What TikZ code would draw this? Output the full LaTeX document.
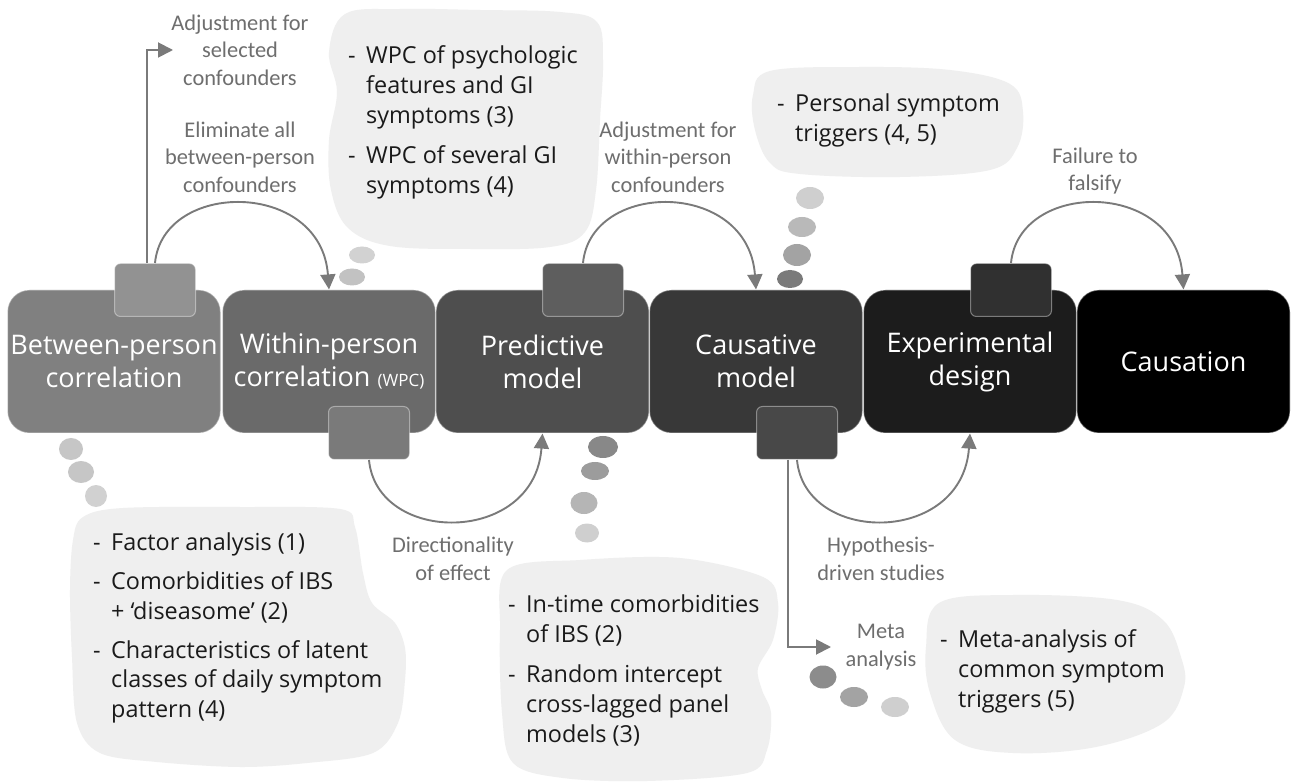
\documentclass[tikz,border=0pt]{standalone}
\usepackage{fontspec}
\setmainfont{Open Sans}
\newfontfamily\lblfont{Carlito}
\usetikzlibrary{arrows.meta}

% stage fills (light to dark) and their tabs
\definecolor{sA}{HTML}{808080}
\definecolor{sB}{HTML}{6A6A6A}
\definecolor{sC}{HTML}{4E4E4E}
\definecolor{sD}{HTML}{383838}
\definecolor{sE}{HTML}{1C1C1C}
\definecolor{sF}{HTML}{000000}
\definecolor{tA}{HTML}{929292}
\definecolor{tB}{HTML}{7A7A7A}
\definecolor{tC}{HTML}{5E5E5E}
\definecolor{tD}{HTML}{484848}
\definecolor{tE}{HTML}{303030}
\definecolor{blobfill}{HTML}{EFEFEF}
\definecolor{lblgray}{HTML}{6E6E6E}
\definecolor{arcgray}{HTML}{7A7A7A}
\definecolor{notetext}{HTML}{1A1A1A}

% bulleted text block: dash column + text column
\newcommand{\blobtext}[1]{{\fontsize{23.4}{30}\selectfont
  \begin{tabular}[t]{@{}p{18pt}@{}l@{}}#1\end{tabular}}}

\begin{document}
\begin{tikzpicture}[x=1pt,y=-1pt,
  stage/.style={rounded corners=22pt, minimum width=213pt, minimum height=143pt,
    inner sep=0pt, draw=white, draw opacity=0.35, line width=1.2pt, text=white,
    align=center, font=\fontsize{27}{33}\selectfont},
  tabbox/.style={rounded corners=6pt, minimum width=81pt, minimum height=53pt,
    inner sep=0pt, draw=white, draw opacity=0.4, line width=1pt},
  link/.style={draw=arcgray, line width=1.9pt,
    -{Triangle[length=15pt,width=15pt]}},
  lbl/.style={font=\lblfont\fontsize{22.4}{27.5}\selectfont, text=lblgray,
    align=center, inner sep=0pt},
  note/.style={text=notetext, inner sep=0pt, anchor=base west},
  blob/.style={fill=blobfill},
]
\useasboundingbox[fill=white] (0,0) rectangle (1291,783);

% ---- cloud-shaped note areas ----
\fill[blob] plot[smooth cycle, tension=0.6] coordinates {
  (345,14) (400,9) (480,10) (560,12) (597,22) (603,60) (600,120) (596,190)
  (585,232) (550,247) (470,249) (390,246) (348,228) (331,190) (329,140)
  (337,92) (329,52)};
\fill[blob] plot[smooth cycle, tension=0.6] coordinates {
  (770,71) (860,67) (950,70) (1010,84) (1023,112) (1017,148) (990,170)
  (900,177) (800,174) (770,163) (755,130) (753,95)};
\fill[blob] plot[smooth cycle, tension=0.55] coordinates {
  (83,517) (123,508) (240,507) (340,509) (355,527) (363,573) (372,603)
  (395,623) (405,648) (405,680) (398,723) (373,753) (307,763) (240,767)
  (157,762) (100,753) (77,723) (72,657) (70,590) (73,540)};
\fill[blob] plot[smooth cycle, tension=0.55] coordinates {
  (507,570) (580,560) (680,558) (763,577) (778,603) (773,640) (758,668)
  (762,690) (771,713) (767,750) (747,773) (647,781) (563,778) (513,763)
  (502,713) (500,630)};
\fill[blob] plot[smooth cycle, tension=0.6] coordinates {
  (939,603) (1013,595) (1117,600) (1163,620) (1181,657) (1184,687)
  (1163,723) (1096,747) (1013,753) (955,740) (930,693) (926,647)};

% ---- small stepping-stone dots ----
\fill[gray!35] (362,255) ellipse [x radius=13pt, y radius=8.5pt];
\fill[gray!48] (352,277) ellipse [x radius=13pt, y radius=8.5pt];

\fill[gray!45] (71,449) ellipse [x radius=12pt, y radius=11pt];
\fill[gray!45] (81,472) ellipse [x radius=13pt, y radius=11pt];
\fill[gray!36] (96,496) ellipse [x radius=11pt, y radius=11pt];

\fill[gray!93] (603,447) ellipse [x radius=15pt, y radius=11pt];
\fill[gray!78] (595,471) ellipse [x radius=14pt, y radius=9pt];
\fill[gray!58] (584,503) ellipse [x radius=13.5pt, y radius=11pt];
\fill[gray!38] (587,533) ellipse [x radius=12pt, y radius=9.5pt];

\fill[gray!38] (810,198) ellipse [x radius=14pt, y radius=11pt];
\fill[gray!55] (802,227) ellipse [x radius=14pt, y radius=10pt];
\fill[gray!72] (797,255) ellipse [x radius=14pt, y radius=11pt];
\fill[black!52] (790,279) ellipse [x radius=13pt, y radius=9pt];

\fill[gray!90] (823,677) ellipse [x radius=13.5pt, y radius=11.5pt];
\fill[gray!72] (854,697) ellipse [x radius=14pt, y radius=10pt];
\fill[gray!38] (895,707) ellipse [x radius=14pt, y radius=10pt];

% ---- stages ----
\node[stage, fill=sA] (b1) at (114,361.5) {Between-person\\correlation};
\node[stage, fill=sB] (b2) at (329,361.5)
  {Within-person\\correlation {\fontsize{17}{17}\selectfont(WPC)}};
\node[stage, fill=sC] (b3) at (542.5,361.5) {Predictive\\model};
\node[stage, fill=sD] (b4) at (756,361.5) {Causative\\model};
\node[stage, fill=sE] (b5) at (970,361.5) {Experimental\\design};
\node[stage, fill=sF] (b6) at (1183.5,361.5) {Causation};

% ---- tabs on the stages ----
\node[tabbox, fill=tA] (t1) at (155,290) {};
\node[tabbox, fill=tB] (t2) at (369,433) {};
\node[tabbox, fill=tC] (t3) at (583,290) {};
\node[tabbox, fill=tD] (t4) at (797,433) {};
\node[tabbox, fill=tE] (t5) at (1011,290) {};

% ---- transitions between stages ----
\draw[link] (t1.north) .. controls +(8,-83) and +(-8,-110) .. (b2.north);
\draw[link] (t3.north) .. controls +(8,-83) and +(-8,-110) .. (b4.north);
\draw[link] (t5.north) .. controls +(8,-83) and +(-8,-110) .. (b6.north);
\draw[link] (t2.south) .. controls +(8,85) and +(-8,112) .. (b3.south);
\draw[link] (t4.south) .. controls +(8,85) and +(-8,112) .. (b5.south);

\coordinate (selEnd) at (173,50);
\coordinate (metaEnd) at (831,647);
\draw[link] ([xshift=-8pt]t1.north) |- (selEnd);
\draw[link] ([xshift=-9pt]t4.south) |- (metaEnd);

% ---- transition labels ----
\node[lbl] (lSel) at (240,50) {Adjustment for\\selected\\confounders};
\node[lbl] (lElim) at (240,157) {Eliminate all\\between-person\\confounders};
\node[lbl] (lWithin) at (668,157) {Adjustment for\\within-person\\confounders};
\node[lbl] (lFail) at (1095,171) {Failure to\\falsify};
\node[lbl] (lDir) at (453,559) {Directionality\\of effect};
\node[lbl] (lHyp) at (881,559) {Hypothesis-\\driven studies};
\node[lbl] (lMeta) at (881,647) {Meta\\analysis};

% ---- notes ----
\node[note] (nWPC) at (348,64) {\blobtext{- & WPC of psychologic\\
  & features and GI\\ & symptoms (3)\\[10pt]
  - & WPC of several GI\\ & symptoms (4)}};
\node[note] (nPers) at (777,112) {\blobtext{- & Personal symptom\\
  & triggers (4, 5)}};
\node[note] (nBetw) at (93,550) {\blobtext{- & Factor analysis (1)\\[9pt]
  - & Comorbidities of IBS\\ & + ‘diseasome’ (2)\\[9pt]
  - & Characteristics of latent\\ & classes of daily symptom\\
  & pattern (4)}};
\node[note] (nPred) at (508,612) {\blobtext{- & In-time comorbidities\\
  & of IBS (2)\\[10pt]
  - & Random intercept\\ & cross-lagged panel\\ & models (3)}};
\node[note] (nMeta) at (940,647) {\blobtext{- & Meta-analysis of\\
  & common symptom\\ & triggers (5)}};
\end{tikzpicture}
\end{document}
